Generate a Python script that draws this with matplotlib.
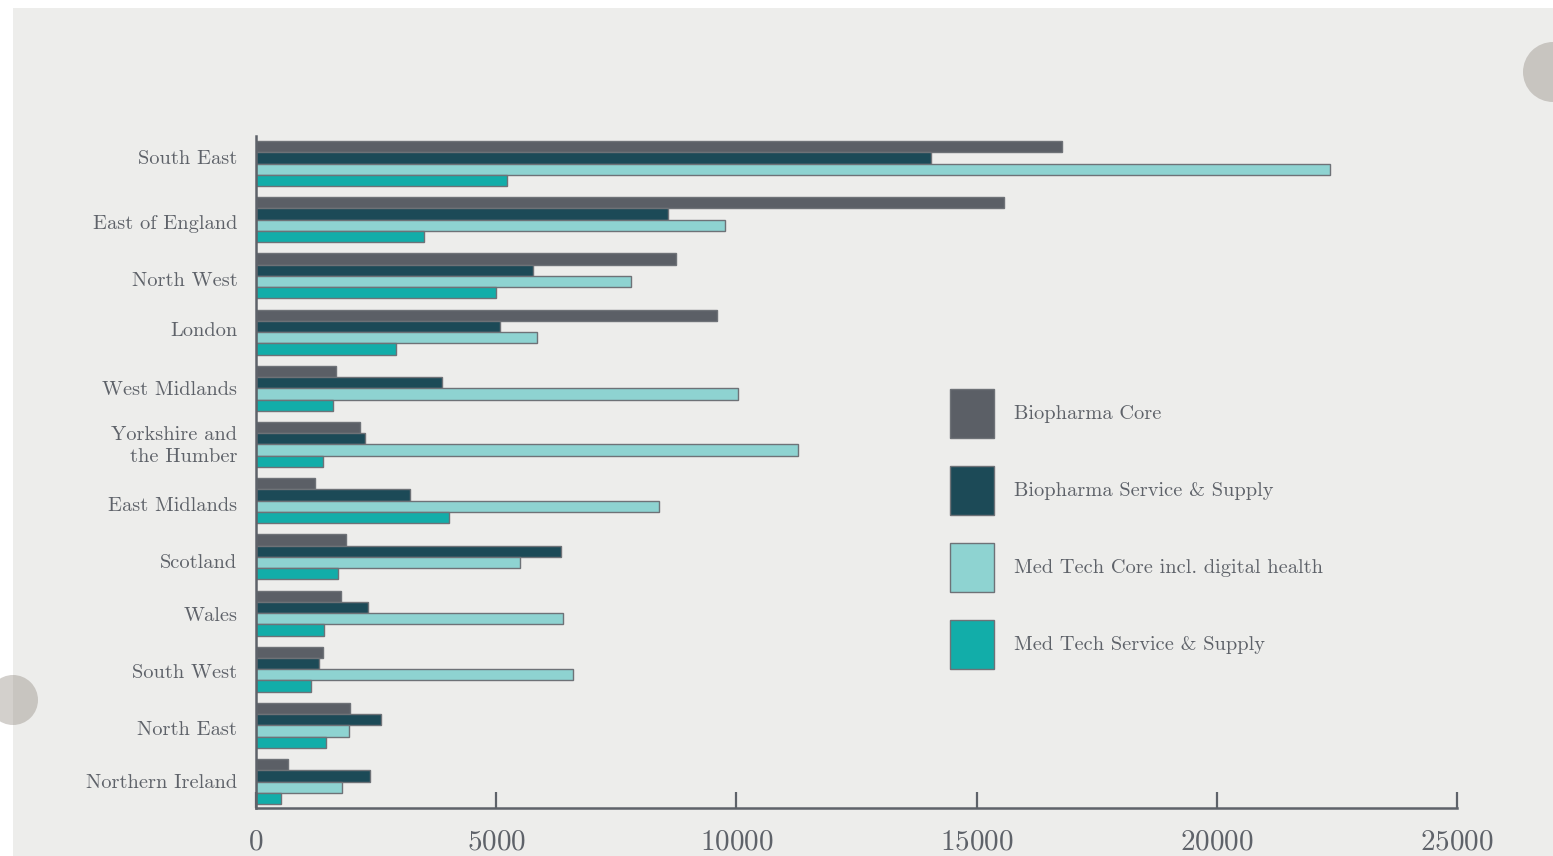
import numpy as np
import matplotlib.pyplot as plt
from matplotlib.patches import Rectangle, Ellipse

plt.rcParams['font.family'] = ['cmr10', 'DejaVu Serif']
plt.rcParams['axes.formatter.use_mathtext'] = True

regions = ['South East', 'East of England', 'North West', 'London', 'West Midlands',
           'Yorkshire and\nthe Humber', 'East Midlands', 'Scotland', 'Wales',
           'South West', 'North East', 'Northern Ireland']

series = ['Biopharma Core', 'Biopharma Service & Supply',
          'Med Tech Core incl. digital health', 'Med Tech Service & Supply']

biopharma_core = [16780, 15570, 8740, 9600, 1670, 2170, 1230, 1870, 1770, 1400, 1960, 670]
biopharma_service = [14050, 8580, 5770, 5080, 3870, 2270, 3200, 6350, 2330, 1320, 2610, 2370]
medtech_core = [22360, 9760, 7800, 5850, 10030, 11290, 8390, 5500, 6390, 6600, 1930, 1800]
medtech_service = [5220, 3500, 5000, 2920, 1600, 1390, 4020, 1710, 1410, 1150, 1450, 520]

# where each region label sits inside its group (fraction of a group)
label_offsets = [0.28, 0.44, 0.45, 0.35, 0.39, 0.35, 0.46, 0.48, 0.42, 0.43, 0.44, 0.39]

colors = ['#5B5F66', '#1C4A57', '#8ED3D1', '#12ADA9']
text_col = '#5E6269'
bg = '#EDEDEB'

W, H = 1553, 856
fig = plt.figure(figsize=(W / 100, H / 100), dpi=100, facecolor='white')

# background panel and decorative circles
fig.patches.append(Rectangle((13 / W, 0), 1 - 13 / W, 1 - 8 / H, transform=fig.transFigure,
                             facecolor=bg, edgecolor='none', zorder=-10))
for cx, cy, r in [(1553, 72, 30), (13, 700, 25)]:
    fig.patches.append(Ellipse((cx / W, 1 - cy / H), 2 * r / W, 2 * r / H,
                               transform=fig.transFigure, facecolor='#8E867D',
                               alpha=0.39, edgecolor='none', zorder=-5))

ax = fig.add_axes([256 / W, 1 - 808 / H, (1457 - 256) / W, (808 - 136) / H])
ax.set_facecolor('none')

y = np.arange(len(regions))
h = 0.2
for k, vals in enumerate([biopharma_core, biopharma_service, medtech_core, medtech_service]):
    ax.barh(y + k * h, vals, height=h, align='edge', color=colors[k],
            edgecolor='#6E7277', linewidth=1.0, label=series[k])

ax.set_ylim(11.87, -0.09)
ax.set_xlim(0, 25000)
ax.set_yticks(y + np.array(label_offsets))
ax.set_yticklabels(regions, fontsize=14.7, color=text_col, linespacing=1.3)
ax.set_xticks([0, 5000, 10000, 15000, 20000, 25000])
ax.tick_params(axis='y', length=0, pad=13.5)
ax.tick_params(axis='x', direction='in', length=11.5, width=1.6, color=text_col,
               labelsize=21, labelcolor=text_col, pad=15)
for lab in ax.get_yticklabels():
    lab.set_horizontalalignment('right')
    lab.set_multialignment('right')

for s in ['top', 'right']:
    ax.spines[s].set_visible(False)
for s in ['left', 'bottom']:
    ax.spines[s].set_color(text_col)
    ax.spines[s].set_linewidth(1.8)

leg = ax.legend(loc='upper left', bbox_to_anchor=(950 / W, 1 - 389 / H),
                bbox_transform=fig.transFigure, frameon=False, fontsize=14.7,
                handlelength=2.16, handleheight=3.315, labelspacing=1.37,
                handletextpad=0.98, borderpad=0, borderaxespad=0)
for t in leg.get_texts():
    t.set_color(text_col)

fig.savefig('out.png', dpi=100, facecolor='white')
